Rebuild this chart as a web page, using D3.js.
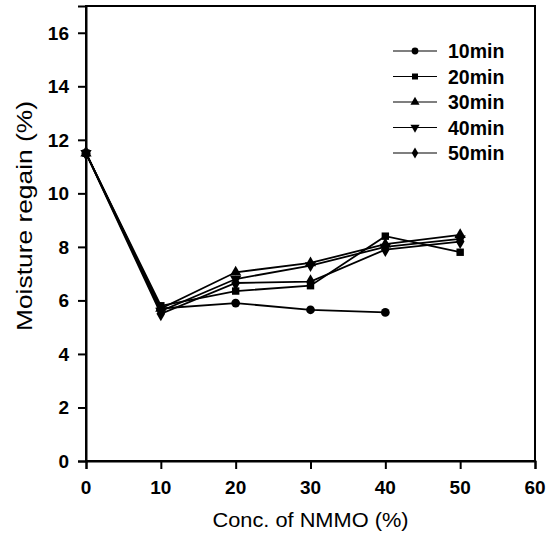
<!DOCTYPE html>
<html>
<head>
<meta charset="utf-8">
<script src="https://cdn.jsdelivr.net/npm/d3@7"></script>
<style>
  body { margin: 0; background: #fff; }
  svg text { font-family: Arial, "Liberation Sans", sans-serif; fill: #000; }
</style>
</head>
<body>
<svg id="chart" width="555" height="540"></svg>
<script>
// data
var concs = [0, 10, 20, 30, 40, 50];
var seriesNames = ["10min", "20min", "30min", "40min", "50min"];
var regain10 = [11.5, 5.7, 5.9, 5.65, 5.55];
var regain20 = [11.5, 5.8, 6.35, 6.55, 8.4, 7.8];
var regain30 = [11.5, 5.7, 7.05, 7.4, 8.1, 8.45];
var regain40 = [11.5, 5.6, 6.8, 7.3, 8.0, 8.3];
var regain50 = [11.5, 5.5, 6.65, 6.7, 7.9, 8.2];
var xTicks = [0, 10, 20, 30, 40, 50, 60];
var yTicks = [0, 2, 4, 6, 8, 10, 12, 14, 16];

var allSeries = [regain10, regain20, regain30, regain40, regain50];
var symbols = [d3.symbolCircle, d3.symbolSquare, d3.symbolTriangle, d3.symbolTriangle, d3.symbolDiamond];
var symSize = [60, 55, 55, 55, 65];

var svg = d3.select("#chart");
var margin = {left: 86, right: 20, top: 6, bottom: 79};

var x = d3.scaleLinear().domain([0, 60]).range([0, 449]);
var y = d3.scaleLinear().domain([0, 17]).range([455, 0]);

var g = svg.append("g").attr("transform", "translate(" + margin.left + "," + margin.top + ")");

// frame
g.append("rect")
    .attr("x", 0).attr("y", 0)
    .attr("width", x(60)).attr("height", y(0))
    .attr("fill", "none").attr("stroke", "#000").attr("stroke-width", 2);

// tick marks from the axes, labels drawn by hand below
var xAxis = g.append("g").attr("transform", "translate(0," + y(0) + ")")
    .call(d3.axisBottom(x).tickValues(xTicks).tickSize(8).tickFormat(""));
var yAxis = g.append("g")
    .call(d3.axisLeft(y).tickValues(yTicks).tickSize(8).tickFormat(""));

[xAxis, yAxis].forEach(function(a) {
    a.select(".domain").attr("stroke-width", 2);
    a.selectAll(".tick line").attr("stroke-width", 2);
});

g.selectAll(".xlab").data(xTicks).enter().append("text")
    .attr("class", "xlab")
    .attr("x", function(d) { return x(d); })
    .attr("y", y(0) + 33)
    .attr("text-anchor", "middle")
    .style("font-size", "19px").style("font-weight", "bold")
    .text(function(d) { return d; });

g.selectAll(".ylab").data(yTicks).enter().append("text")
    .attr("class", "ylab")
    .attr("x", -17)
    .attr("y", function(d) { return y(d) + 7; })
    .attr("text-anchor", "end")
    .style("font-size", "19px").style("font-weight", "bold")
    .text(function(d) { return d; });

var line = d3.line()
    .x(function(d, i) { return x(concs[i]); })
    .y(function(d) { return y(d); });

allSeries.forEach(function(s, k) {
    g.append("path")
        .datum(s)
        .attr("fill", "none")
        .attr("stroke", "#000")
        .attr("stroke-width", 1.8)
        .attr("d", line);
});

allSeries.forEach(function(s, k) {
    g.selectAll(".pt" + k).data(s).enter().append("path")
        .attr("class", "pt" + k)
        .attr("d", d3.symbol().type(symbols[k]).size(symSize[k]))
        .attr("transform", function(d, i) {
            return "translate(" + x(concs[i]) + "," + y(d) + ")" + (k == 3 ? " rotate(180)" : "");
        })
        .attr("fill", "#000");
});

// legend
var leg = svg.append("g").attr("transform", "translate(393,51)");
seriesNames.forEach(function(name, k) {
    var row = leg.append("g").attr("transform", "translate(0," + (k * 25.5) + ")");
    row.append("line").attr("x1", 0).attr("x2", 44).attr("y1", 0).attr("y2", 0)
        .attr("stroke", "#000").attr("stroke-width", 1.2);
    row.append("path")
        .attr("d", d3.symbol().type(symbols[k]).size(36))
        .attr("transform", "translate(22,0)" + (k == 3 ? " rotate(180)" : ""))
        .attr("fill", "#000");
    row.append("text").attr("x", 55).attr("y", 7)
        .style("font-size", "19.5px").style("font-weight", "bold")
        .text(name);
});

// axis titles
svg.append("text")
    .attr("x", margin.left + x(30)).attr("y", 527)
    .attr("text-anchor", "middle").style("font-size", "21px")
    .attr("textLength", 196).attr("lengthAdjust", "spacingAndGlyphs")
    .text("Conc. of NMMO (%)");
svg.append("text")
    .attr("transform", "translate(32,216) rotate(-90)")
    .attr("text-anchor", "middle").style("font-size", "22px")
    .attr("textLength", 230).attr("lengthAdjust", "spacingAndGlyphs")
    .text("Moisture regain (%)");
</script>
</body>
</html>
